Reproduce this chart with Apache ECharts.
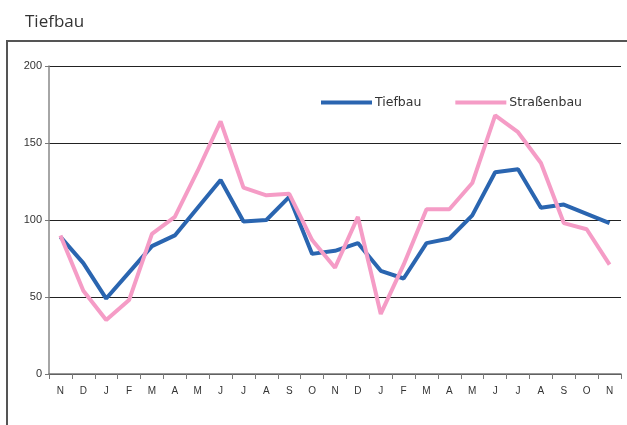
<!DOCTYPE html>
<html><head><meta charset="utf-8">
<script src="https://cdn.jsdelivr.net/npm/echarts@6/dist/echarts.min.js"></script>
<style>html,body{margin:0;padding:0;background:#fff}#c{width:627px;height:425px}</style>
</head><body><div id="c"></div>
<script>
const categories = ['N','D','J','F','M','A','M','J','J','A','S','O','N','D','J','F','M','A','M','J','J','A','S','O','N'];
const tiefbau = [89,72,49,66,83,90,108,126,99,100,115,78,80,85,67,62,85,88,103,131,133,108,110,104,98];
const strassenbau = [90,54,35,48,91,102,132,164,121,116,117,87,69,102,39,71,107,107,124,168,157,137,98,94,71];
const yTicks = [0,50,100,150,200];

const chart = echarts.init(document.getElementById('c'), null, {renderer:'canvas'});
chart.setOption({
  animation:false,
  backgroundColor:'#fff',
  textStyle:{fontFamily:'Liberation Sans, Arial, sans-serif'},
  title:{text:'Tiefbau', left:20, top:9, textStyle:{fontFamily:'Open Sans, DejaVu Sans, sans-serif', fontSize:17, fontWeight:'normal', color:'#333'}},
  graphic:[{type:'rect', shape:{x:7, y:41, width:700, height:500}, style:{fill:'none', stroke:'#555', lineWidth:2}, z:-1}],
  legend:{
    top:91, left:316, itemWidth:51, itemHeight:4, itemGap:34,
    icon:'rect',
    textStyle:{fontFamily:'DejaVu Sans, sans-serif', fontSize:12.5, color:'#333', padding:[0,0,0,-2]},
    data:['Tiefbau','Straßenbau']
  },
  grid:{left:49, right:6, top:66, bottom:51},
  xAxis:{
    type:'category', data:categories, boundaryGap:true,
    axisLine:{lineStyle:{color:'#777', width:1.5}},
    axisTick:{show:true, length:5, inside:false, lineStyle:{color:'#777'}},
    axisLabel:{fontSize:10, color:'#333', margin:12}
  },
  yAxis:{
    type:'value', min:0, max:200, interval:50,
    axisLine:{show:true, lineStyle:{color:'#888', width:1.5}},
    axisTick:{show:true, length:4, lineStyle:{color:'#777'}},
    axisLabel:{fontSize:11, color:'#333', margin:7, customValues:yTicks},
    splitLine:{show:true, lineStyle:{color:'#222', width:1}}
  },
  series:[
    {name:'Tiefbau', type:'line', data:tiefbau, symbol:'none', lineStyle:{color:'#2a65b0', width:4}, itemStyle:{color:'#2a65b0'}},
    {name:'Straßenbau', type:'line', data:strassenbau, symbol:'none', lineStyle:{color:'#f59cc6', width:4}, itemStyle:{color:'#f59cc6'}}
  ]
});
</script></body></html>
